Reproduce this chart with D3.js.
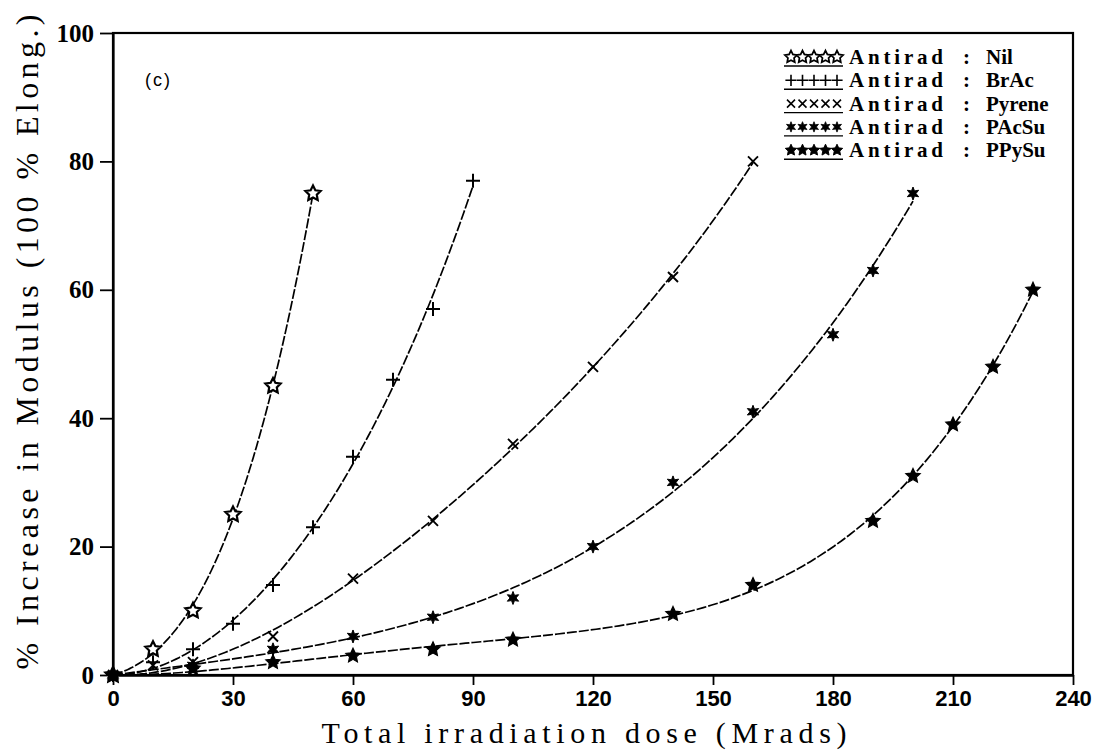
<!DOCTYPE html>
<html>
<head>
<meta charset="utf-8">
<script src="https://cdn.jsdelivr.net/npm/d3@7"></script>
<style>
  html, body { margin: 0; padding: 0; background: #fff; }
  svg { display: block; }
</style>
</head>
<body>
<svg id="chart" width="1099" height="751"></svg>
<script>
// Axis ticks
const xTicks = [0, 30, 60, 90, 120, 150, 180, 210, 240];
const yTicks = [0, 20, 40, 60, 80, 100];

// Series: irradiation dose (Mrads) and % increase in modulus
const doseNil = [0, 10, 20, 30, 40, 50];
const valNil  = [0, 4, 10, 25, 45, 75];

const doseBrAc = [0, 10, 20, 30, 40, 50, 60, 70, 80, 90];
const valBrAc  = [0, 2, 4, 8, 14, 23, 34, 46, 57, 77];

const dosePyrene = [0, 10, 20, 40, 60, 80, 100, 120, 140, 160];
const valPyrene  = [0, 1.5, 2, 6, 15, 24, 36, 48, 62, 80];

const dosePAcSu = [0, 20, 40, 60, 80, 100, 120, 140, 160, 180, 190, 200];
const valPAcSu  = [0, 1.5, 4, 6, 9, 12, 20, 30, 41, 53, 63, 75];

const dosePPySu = [0, 20, 40, 60, 80, 100, 140, 160, 190, 200, 210, 220, 230];
const valPPySu  = [0, 1, 2, 3, 4, 5.5, 9.5, 14, 24, 31, 39, 48, 60];

const seriesNames = ["Nil", "BrAc", "Pyrene", "PAcSu", "PPySu"];
const seriesMarks = ["starOpen", "plus", "times", "asterisk", "starFilled"];

const series = [
  { name: seriesNames[0], mark: seriesMarks[0], dose: doseNil,    val: valNil },
  { name: seriesNames[1], mark: seriesMarks[1], dose: doseBrAc,   val: valBrAc },
  { name: seriesNames[2], mark: seriesMarks[2], dose: dosePyrene, val: valPyrene },
  { name: seriesNames[3], mark: seriesMarks[3], dose: dosePAcSu,  val: valPAcSu },
  { name: seriesNames[4], mark: seriesMarks[4], dose: dosePPySu,  val: valPPySu }
];

const svg = d3.select("#chart");
const plotL = 113, plotR = 1073, plotT = 33, plotB = 675;

const x = d3.scaleLinear().domain([0, 240]).range([plotL, plotR]);
const y = d3.scaleLinear().domain([0, 100]).range([plotB, plotT]);

// Least-squares polynomial through the origin: y = sum c_k (x/X)^k, k = 1..deg
function fitCurve(xs, ys, deg) {
  const X = d3.max(xs);
  const n = deg;
  const A = Array.from({ length: n }, () => new Array(n + 1).fill(0));
  xs.forEach((xv, i) => {
    const t = xv / X;
    const p = [];
    for (let k = 1; k <= n; k++) p.push(Math.pow(t, k));
    for (let r = 0; r < n; r++) {
      for (let c = 0; c < n; c++) A[r][c] += p[r] * p[c];
      A[r][n] += p[r] * ys[i];
    }
  });
  // Gauss-Jordan elimination
  for (let c = 0; c < n; c++) {
    let piv = c;
    for (let r = c + 1; r < n; r++) if (Math.abs(A[r][c]) > Math.abs(A[piv][c])) piv = r;
    [A[c], A[piv]] = [A[piv], A[c]];
    for (let r = 0; r < n; r++) {
      if (r === c) continue;
      const f = A[r][c] / A[c][c];
      for (let k = c; k <= n; k++) A[r][k] -= f * A[c][k];
    }
  }
  const coef = A.map((row, i) => row[n] / row[i]);
  return xv => {
    const t = xv / X;
    let s = 0;
    for (let k = 1; k <= n; k++) s += coef[k - 1] * Math.pow(t, k);
    return s;
  };
}

// star polygon path centred on the origin
function starPath(points, rOuter, rInner) {
  const pts = [];
  for (let i = 0; i < points * 2; i++) {
    const r = i % 2 === 0 ? rOuter : rInner;
    const a = -Math.PI / 2 + i * Math.PI / points;
    pts.push([r * Math.cos(a), r * Math.sin(a)]);
  }
  return "M" + pts.map(p => p[0].toFixed(2) + "," + p[1].toFixed(2)).join("L") + "Z";
}

function drawMarker(g, kind, s) {
  // s = scale factor
  if (kind === "starOpen") {
    g.append("path").attr("d", starPath(5, 8 * s, 4 * s))
      .attr("fill", "#fff").attr("stroke", "#000").attr("stroke-width", 2.2 * s)
      .attr("stroke-linejoin", "miter");
  } else if (kind === "starFilled") {
    g.append("path").attr("d", starPath(5, 7.5 * s, 3.6 * s))
      .attr("fill", "#000").attr("stroke", "#000").attr("stroke-width", 1.2 * s);
  } else if (kind === "asterisk") {
    g.append("path").attr("d", starPath(6, 6.5 * s, 3 * s))
      .attr("fill", "#000").attr("stroke", "#000").attr("stroke-width", 1 * s);
  } else if (kind === "plus") {
    const a = 7 * s;
    g.append("path").attr("d", `M${-a},0H${a}M0,${-a}V${a}`)
      .attr("stroke", "#000").attr("stroke-width", 2 * s).attr("fill", "none");
  } else if (kind === "times") {
    const a = 5 * s;
    g.append("path").attr("d", `M${-a},${-a}L${a},${a}M${-a},${a}L${a},${-a}`)
      .attr("stroke", "#000").attr("stroke-width", 1.9 * s).attr("fill", "none");
  }
}

// fitted curves
const line = d3.line()
  .x(d => x(d[0]))
  .y(d => y(d[1]))
  .curve(d3.curveLinear);

const curves = svg.append("g").attr("class", "curves");
series.forEach((sr, si) => {
  const f = fitCurve(sr.dose, sr.val, si === 0 ? 3 : 4);
  const xmax = d3.max(sr.dose);
  const pts = d3.range(0, 121).map(i => {
    const xv = xmax * i / 120;
    return [xv, f(xv)];
  });
  curves.append("path")
    .attr("d", line(pts))
    .attr("fill", "none")
    .attr("stroke", "#000")
    .attr("stroke-width", 1.7)
    .attr("stroke-dasharray", "10,2");
});

// data markers
const marks = svg.append("g").attr("class", "marks");
series.forEach(sr => {
  sr.dose.forEach((d, i) => {
    const g = marks.append("g").attr("transform", `translate(${x(d)},${y(sr.val[i])})`);
    drawMarker(g, sr.mark, 1);
  });
});

// frame
svg.append("rect")
  .attr("x", plotL).attr("y", plotT)
  .attr("width", plotR - plotL).attr("height", plotB - plotT)
  .attr("fill", "none").attr("stroke", "#000").attr("stroke-width", 2.2);

// x axis
const xAxis = svg.append("g")
  .attr("transform", `translate(0,${plotB})`)
  .call(d3.axisBottom(x).tickValues(xTicks).tickSize(10).tickSizeOuter(0).tickPadding(5).tickFormat(d3.format("d")));
xAxis.select(".domain").attr("stroke-width", 2.4);
xAxis.selectAll(".tick line").attr("stroke-width", 1.8);
xAxis.selectAll(".tick text")
  .attr("font-family", "'Liberation Sans', Arial, sans-serif")
  .attr("font-weight", "bold")
  .attr("font-size", 22)
  .attr("fill", "#000");

// y axis
const yAxis = svg.append("g")
  .attr("transform", `translate(${plotL},0)`)
  .call(d3.axisLeft(y).tickValues(yTicks).tickSize(13).tickSizeOuter(0).tickPadding(6).tickFormat(d3.format("d")));
yAxis.select(".domain").attr("stroke-width", 2.2);
yAxis.selectAll(".tick line").attr("stroke-width", 1.8);
yAxis.selectAll(".tick text")
  .attr("font-family", "'Liberation Serif', 'Times New Roman', serif")
  .attr("font-weight", "bold")
  .attr("font-size", 25)
  .attr("fill", "#000");

// axis titles
svg.append("text")
  .attr("x", 584).attr("y", 743)
  .attr("text-anchor", "middle")
  .attr("font-family", "'Liberation Serif', 'Times New Roman', serif")
  .attr("font-size", 30)
  .attr("textLength", 525)
  .attr("lengthAdjust", "spacing")
  .text("Total irradiation dose (Mrads)");

svg.append("text")
  .attr("transform", "translate(38,342) rotate(-90)")
  .attr("text-anchor", "middle")
  .attr("font-family", "'Liberation Serif', 'Times New Roman', serif")
  .attr("font-size", 32)
  .attr("textLength", 655)
  .attr("lengthAdjust", "spacing")
  .text("% Increase in Modulus (100 % Elong.)");

// panel label
svg.append("text")
  .attr("x", 145).attr("y", 86)
  .attr("font-family", "'Liberation Sans', Arial, sans-serif")
  .attr("font-size", 18)
  .attr("letter-spacing", 2)
  .text("(c)");

// legend
const legend = svg.append("g").attr("class", "legend");
const rowY0 = 64, rowStep = 23.3;
series.forEach((sr, i) => {
  const by = rowY0 + i * rowStep;
  const row = legend.append("g");
  for (let k = 0; k < 5; k++) {
    const g = row.append("g").attr("transform", `translate(${791 + k * 11.5},${by - 7})`);
    drawMarker(g, sr.mark, 0.8);
  }
  row.append("line")
    .attr("x1", 784).attr("x2", 843)
    .attr("y1", by + 2).attr("y2", by + 2)
    .attr("stroke", "#000").attr("stroke-width", 1.4);
  const txt = { "font-family": "'Liberation Serif', 'Times New Roman', serif", "font-weight": "bold", "font-size": 21 };
  const t1 = row.append("text").attr("x", 849).attr("y", by).attr("textLength", 94).attr("lengthAdjust", "spacing").text("Antirad");
  const t2 = row.append("text").attr("x", 963).attr("y", by).text(":");
  const t3 = row.append("text").attr("x", 986).attr("y", by).text(sr.name);
  [t1, t2, t3].forEach(t => Object.entries(txt).forEach(([k, v]) => t.attr(k, v)));
});
</script>
</body>
</html>
